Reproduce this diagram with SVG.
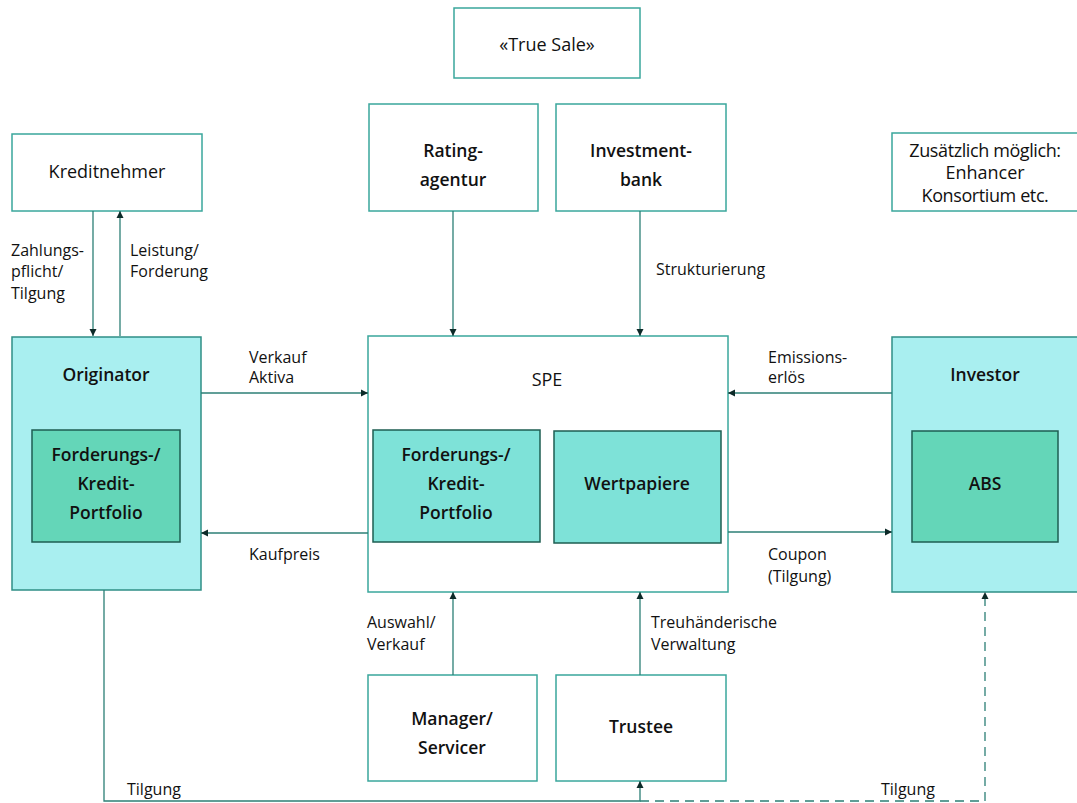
<svg xmlns="http://www.w3.org/2000/svg" width="1077" height="803" viewBox="0 0 1077 803">
<defs>
<marker id="ah" viewBox="0 0 10 10" refX="10" refY="5" markerWidth="7" markerHeight="10" markerUnits="userSpaceOnUse" orient="auto"><path d="M0,0 L10,5 L0,10 z" fill="#0d2a28"/></marker>
<style>
.box{fill:#ffffff;stroke:#3aa79c;stroke-width:1.5}
.outer{fill:#a9eff0;stroke:#2f8f86;stroke-width:1.5}
.inner{fill:#64d6b8;stroke:#1e5e52;stroke-width:1.5}
.inner2{fill:#7ee2d8;stroke:#1e5e52;stroke-width:1.5}
.ln{fill:none;stroke:#2c7f76;stroke-width:1.3}
.dash{fill:none;stroke:#2c7f76;stroke-width:1.3;stroke-dasharray:9,6}
text{font-family:"Open Sans","Noto Sans","Liberation Sans",sans-serif;fill:#111;}
.t{font-size:18px;text-anchor:middle}
.b{font-size:17.5px;text-anchor:middle;font-weight:600}
.l{font-size:16px}
</style>
</defs>
<g id="truesale"><rect class="box" x="454" y="8" width="186" height="70"/><text class="t" x="547" y="51">«True Sale»</text></g>
<g id="kreditnehmer"><rect class="box" x="12" y="134" width="190" height="77"/><text class="t" x="107" y="178">Kreditnehmer</text></g>
<g id="rating"><rect class="box" x="369" y="104" width="169" height="107"/><text class="b" x="453" y="157">Rating-</text><text class="b" x="453" y="186">agentur</text></g>
<g id="investmentbank"><rect class="box" x="556" y="104" width="170" height="107"/><text class="b" x="641" y="157">Investment-</text><text class="b" x="641" y="186">bank</text></g>
<g id="zusatz"><rect class="box" x="892" y="133" width="186" height="78"/><text class="t" x="985" y="157" style="letter-spacing:-0.4px">Zusätzlich möglich:</text><text class="t" x="985" y="179">Enhancer</text><text class="t" x="985" y="202" style="letter-spacing:-0.4px">Konsortium etc.</text></g>
<g id="originator"><rect class="outer" x="12" y="337" width="189" height="253"/><text class="b" x="106" y="381">Originator</text>
<rect class="inner" x="32" y="430" width="148" height="112"/><text class="b" x="106" y="461">Forderungs-/</text><text class="b" x="106" y="490">Kredit-</text><text class="b" x="106" y="519">Portfolio</text></g>
<g id="spe"><rect class="box" x="368" y="336" width="360" height="256"/><text class="t" x="547" y="386">SPE</text>
<rect class="inner2" x="373" y="430" width="167" height="112"/><text class="b" x="456" y="461">Forderungs-/</text><text class="b" x="456" y="490">Kredit-</text><text class="b" x="456" y="519">Portfolio</text>
<rect class="inner2" x="554" y="431" width="167" height="112"/><text class="b" x="637" y="490">Wertpapiere</text></g>
<g id="investor"><rect class="outer" x="892" y="337" width="190" height="255"/><text class="b" x="985" y="381">Investor</text>
<rect class="inner" x="912" y="431" width="146" height="111"/><text class="b" x="985" y="490">ABS</text></g>
<g id="manager"><rect class="box" x="368" y="675" width="169" height="106"/><text class="b" x="452" y="725">Manager/</text><text class="b" x="452" y="754">Servicer</text></g>
<g id="trustee"><rect class="box" x="556" y="675" width="170" height="106"/><text class="b" x="641" y="733">Trustee</text></g>
<g id="connectors">
<path class="ln" d="M93,211 V336" marker-end="url(#ah)"/>
<path class="ln" d="M120,336 V211" marker-end="url(#ah)"/>
<path class="ln" d="M453,211 V336" marker-end="url(#ah)"/>
<path class="ln" d="M640,211 V336" marker-end="url(#ah)"/>
<path class="ln" d="M201,393 H368" marker-end="url(#ah)"/>
<path class="ln" d="M368,533 H201" marker-end="url(#ah)"/>
<path class="ln" d="M892,393 H728" marker-end="url(#ah)"/>
<path class="ln" d="M728,532 H892" marker-end="url(#ah)"/>
<path class="ln" d="M453,675 V592" marker-end="url(#ah)"/>
<path class="ln" d="M640,675 V592" marker-end="url(#ah)"/>
<path class="ln" d="M104,590 V801 H640 V781" marker-end="url(#ah)"/>
<path class="dash" d="M640,801 H985 V592" marker-end="url(#ah)"/>
<text class="l" x="11" y="256">Zahlungs-</text><text class="l" x="11" y="277">pflicht/</text><text class="l" x="11" y="299">Tilgung</text>
<text class="l" x="130" y="256">Leistung/</text><text class="l" x="130" y="277">Forderung</text>
<text class="l" x="656" y="275">Strukturierung</text>
<text class="l" x="249" y="363">Verkauf</text><text class="l" x="249" y="383">Aktiva</text>
<text class="l" x="249" y="560">Kaufpreis</text>
<text class="l" x="768" y="363">Emissions-</text><text class="l" x="768" y="383">erlös</text>
<text class="l" x="768" y="560">Coupon</text><text class="l" x="768" y="582">(Tilgung)</text>
<text class="l" x="367" y="628">Auswahl/</text><text class="l" x="367" y="650">Verkauf</text>
<text class="l" x="651" y="628">Treuhänderische</text><text class="l" x="651" y="650">Verwaltung</text>
<text class="l" x="127" y="795">Tilgung</text>
<text class="l" x="881" y="795">Tilgung</text>
</g>
</svg>
